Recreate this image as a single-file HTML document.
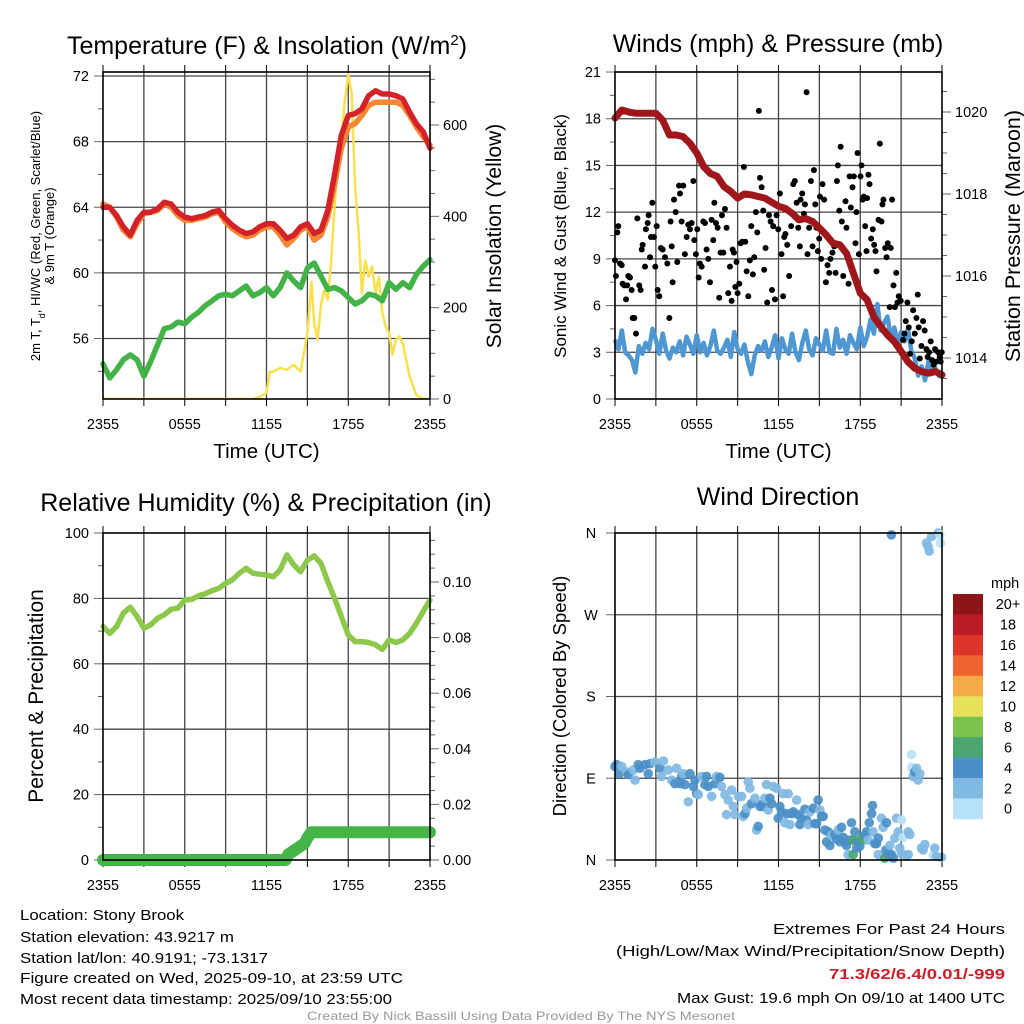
<!DOCTYPE html>
<html><head><meta charset="utf-8"><style>
html,body{margin:0;padding:0;background:#fff;}
svg{display:block;font-family:"Liberation Sans",sans-serif;}
</style></head><body>
<svg id="fig" width="1024" height="1024" viewBox="0 0 1024 1024" xmlns="http://www.w3.org/2000/svg">
<rect width="1024" height="1024" fill="#fff"/>
<g id="p1"></g>
<g id="p2"></g>
<g id="p3"></g>
<g id="p4"></g>

<g font-size="15">
<text x="20" y="920" textLength="164" lengthAdjust="spacingAndGlyphs">Location: Stony Brook</text>
<text x="20" y="942" textLength="214" lengthAdjust="spacingAndGlyphs">Station elevation: 43.9217 m</text>
<text x="20" y="963" textLength="248" lengthAdjust="spacingAndGlyphs">Station lat/lon: 40.9191; -73.1317</text>
<text x="20" y="983" textLength="383" lengthAdjust="spacingAndGlyphs">Figure created on Wed, 2025-09-10, at 23:59 UTC</text>
<text x="20" y="1004" textLength="372" lengthAdjust="spacingAndGlyphs">Most recent data timestamp: 2025/09/10 23:55:00</text>
<text x="1005" y="934" text-anchor="end" textLength="232" lengthAdjust="spacingAndGlyphs">Extremes For Past 24 Hours</text>
<text x="1005" y="956" text-anchor="end" textLength="389" lengthAdjust="spacingAndGlyphs">(High/Low/Max Wind/Precipitation/Snow Depth)</text>
<text x="1005" y="979" text-anchor="end" fill="#c8202a" font-weight="bold" textLength="176" lengthAdjust="spacingAndGlyphs">71.3/62/6.4/0.01/-999</text>
<text x="1005" y="1003" text-anchor="end" textLength="328" lengthAdjust="spacingAndGlyphs">Max Gust: 19.6 mph On 09/10 at 1400 UTC</text>
<text x="521" y="1020" text-anchor="middle" font-size="12" fill="#999" textLength="428" lengthAdjust="spacingAndGlyphs">Created By Nick Bassill Using Data Provided By The NYS Mesonet</text>
</g>
</svg>
<script>
// ---------- DATA ----------
const timeTickLabels = ["2355","0555","1155","1755","2355"];
// Temperature panel (values every 0.5 h, 0..24)
const tempRed = [64.0,64.0,63.5,62.8,62.3,63.2,63.7,63.7,63.9,64.3,64.2,63.7,63.4,63.3,63.4,63.5,63.7,63.8,63.3,62.9,62.6,62.4,62.5,62.8,63.0,63.0,62.6,62.1,62.3,62.8,63.0,62.4,62.6,63.8,66.0,68.4,69.6,69.7,70.0,70.8,71.1,70.9,70.9,70.8,70.6,69.8,69.1,68.6,67.6];
const tempOrange = [64.2,64.0,63.4,62.6,62.2,63.0,63.6,63.7,63.8,64.2,64.0,63.5,63.2,63.2,63.3,63.4,63.6,63.7,63.1,62.7,62.4,62.2,62.3,62.6,62.8,62.8,62.3,61.7,62.1,62.6,62.8,62.0,62.3,63.4,65.4,67.6,68.9,69.1,69.6,70.2,70.4,70.4,70.4,70.4,70.2,69.6,68.9,68.3,67.8];
const dewGreen = [54.45,53.6,54.1,54.7,55.0,54.7,53.7,54.6,55.6,56.6,56.7,57.0,56.9,57.3,57.6,58.0,58.3,58.6,58.7,58.6,58.9,59.2,58.6,58.8,59.1,58.6,59.1,60.0,59.5,59.1,60.3,60.6,59.8,59.0,59.1,58.9,58.5,58.1,58.3,58.7,58.6,58.3,59.4,59.0,59.4,59.1,59.9,60.4,60.8];
const insolHours = [0,11,11.5,12,12.25,12.5,13,13.5,14,14.5,15,15.3,15.5,15.75,16,16.25,16.5,16.75,17,17.25,17.5,17.75,18,18.25,18.5,18.75,19,19.25,19.5,19.75,20,20.25,20.5,20.75,21,21.25,21.5,21.75,22,22.5,23,23.5,24];
const insolVals = [0,0,5,13,60,60,68,64,75,60,144,257,166,130,207,239,217,304,420,522,573,653,711,668,464,369,231,304,268,290,231,268,188,159,144,97,130,137,122,49,9,0,0];
const tempTicks = [56,60,64,68,72];
const insolTicks = [0,200,400,600];
// Wind panel
const windBlue = [3.8,3.2,4.4,3.0,2.8,2.5,1.7,3.4,2.9,3.6,3.2,4.5,3.8,2.9,4.2,3.1,2.6,3.3,3.0,3.7,2.8,4.0,3.5,2.9,4.1,3.0,3.6,2.8,3.4,4.4,3.1,2.9,3.3,3.8,2.7,4.3,3.2,2.9,3.5,2.4,1.6,2.8,3.4,3.1,3.7,2.7,3.3,4.1,2.6,3.9,3.2,2.9,4.2,3.0,2.5,3.6,4.4,3.2,2.8,3.9,3.5,3.1,4.4,3.0,2.9,4.5,3.3,3.8,2.9,4.1,3.6,3.2,4.6,3.4,4.0,5.1,4.2,6.1,4.4,4.9,5.3,3.9,4.6,3.6,4.3,3.7,4.5,3.1,2.6,1.5,2.1,1.2,2.4,1.6,2.0,1.5,1.4];
const pressure = [1019.85,1020.05,1020.0,1019.97,1019.97,1019.97,1019.97,1019.8,1019.44,1019.44,1019.4,1019.24,1019.0,1018.67,1018.5,1018.43,1018.18,1018.06,1017.9,1018.0,1017.98,1017.94,1017.9,1017.8,1017.7,1017.65,1017.53,1017.37,1017.4,1017.33,1017.17,1017.0,1016.8,1016.76,1016.55,1016.07,1015.58,1015.42,1015.0,1014.77,1014.56,1014.4,1014.16,1013.91,1013.75,1013.67,1013.63,1013.67,1013.59];
const gustHours = [0,0.07,0.17,0.24,0.37,0.49,0.56,0.68,0.81,0.9,0.98,1.1,1.22,1.3,1.42,1.54,1.64,1.78,1.88,1.96,2.03,2.2,2.27,2.4,2.47,2.57,2.64,2.74,2.86,2.96,3.06,3.13,3.25,3.37,3.5,3.67,3.84,3.99,4.08,4.16,4.23,4.33,4.45,4.57,4.7,4.77,4.89,5.01,5.13,5.26,5.38,5.5,5.62,5.75,5.82,5.94,6.04,6.14,6.23,6.36,6.48,6.6,6.72,6.85,6.97,7.09,7.21,7.29,7.41,7.53,7.65,7.75,7.85,7.95,8.07,8.19,8.31,8.44,8.56,8.63,8.73,8.83,8.92,9.0,9.12,9.22,9.34,9.46,9.56,9.66,9.78,9.9,10.0,10.12,10.22,10.34,10.44,10.56,10.64,10.76,10.88,10.95,11.05,11.17,11.3,11.42,11.52,11.61,11.74,11.86,11.98,12.1,12.22,12.34,12.42,12.51,12.64,12.78,12.93,13.08,13.2,13.33,13.45,13.57,13.62,13.74,13.86,13.94,14.06,14.13,14.25,14.38,14.5,14.6,14.7,14.79,14.89,14.99,15.04,15.13,15.23,15.35,15.48,15.6,15.72,15.81,15.96,16.09,16.19,16.29,16.36,16.46,16.56,16.65,16.75,16.92,16.99,17.14,17.22,17.31,17.43,17.53,17.65,17.72,17.8,17.9,18.02,18.09,18.17,18.26,18.36,18.46,18.5,18.6,18.68,18.8,18.92,19.02,19.12,19.19,19.34,19.44,19.56,19.63,19.7,19.83,19.93,20.02,20.17,20.24,20.34,20.44,20.54,20.64,20.73,20.83,20.97,21.14,21.24,21.34,21.46,21.56,21.66,21.78,21.88,22.0,22.12,22.22,22.29,22.37,22.49,22.61,22.73,22.86,22.95,23.05,23.17,23.27,23.39,23.49,23.59,23.71,23.83,23.9,23.98];
const gustSpeeds = [8.9,7.9,10.7,11.1,8.7,8.6,7.4,7.3,6.4,7.3,7.9,7.8,7.0,5.2,5.2,4.2,11.6,7.3,7.0,9.6,9.9,8.5,10.9,11.3,11.8,9.1,10.4,12.6,10.4,8.5,11.1,7.0,6.6,9.7,9.6,9.1,8.7,5.2,11.4,9.8,7.5,12.8,12.0,8.8,13.7,13.2,11.4,13.7,9.3,10.4,11.2,10.9,11.3,14.0,10.2,9.3,10.9,7.8,8.7,8.5,11.4,11.3,9.6,9.0,7.5,11.5,10.2,12.6,11.3,11.0,6.5,9.4,11.8,9.4,12.2,11.0,6.8,8.5,6.3,9.6,9.4,7.2,8.8,6.8,7.4,10.0,10.1,14.9,10.1,8.2,6.6,8.9,11.1,8.0,9.1,12.0,10.7,18.5,14.2,13.6,12.1,8.3,9.7,6.2,11.8,11.4,7.0,11.1,6.4,11.8,10.9,13.2,9.3,6.6,10.4,10.6,9.9,7.9,11.1,13.8,14.0,12.6,11.0,9.8,12.8,13.2,11.9,12.5,19.7,9.3,11.0,14.0,9.8,14.7,12.5,11.0,9.5,10.3,13.0,9.0,13.8,12.8,7.5,8.6,8.1,9.0,9.4,9.8,8.1,14.0,15.0,12.1,16.2,11.4,7.9,12.7,11.0,7.4,14.3,12.3,13.6,14.3,10.0,12.0,15.8,9.3,14.3,15.0,12.8,13.0,11.1,9.5,12.9,14.4,13.8,10.3,10.9,9.9,9.5,8.2,11.5,16.4,11.4,12.5,12.8,9.7,9.1,10.0,5.9,9.7,12.8,7.3,5.9,8.1,6.2,6.6,6.3,3.8,4.2,5.0,6.2,4.6,2.9,3.7,5.7,4.2,5.2,6.7,4.6,2.6,3.4,5.0,4.4,3.2,2.7,3.0,3.7,2.5,2.2,3.2,2.4,3.0,2.7,2.4,3.0];
const windTicks = [0,3,6,9,12,15,18,21];
const pressTicks = [1014,1016,1018,1020];
// Humidity panel
const rhVals = [71.4,69.3,71.4,75.5,77.3,74.4,70.9,71.9,73.9,75.0,76.7,77.0,79.5,79.7,80.8,81.4,82.4,83.1,84.6,85.7,87.7,89.2,87.7,87.4,87.2,86.6,88.7,93.3,90.2,88.2,91.7,93.0,90.7,85.1,80.0,74.4,68.8,66.8,66.8,66.5,65.8,64.4,67.3,66.5,67.3,69.3,72.4,76.0,79.5];
const precipHours = [0,13.4,13.6,14.2,14.8,15.0,15.3,24];
const precipVals = [0,0,0.002,0.004,0.006,0.008,0.01,0.01];
const rhTicks = [0,20,40,60,80,100];
const precipTicks = ["0.00","0.02","0.04","0.06","0.08","0.10"];
// Wind direction panel
const dirHours = [0,0.12,0.32,0.49,0.86,0.98,1.34,1.47,1.71,1.83,2.2,2.44,2.57,2.93,3.3,3.42,3.55,3.91,4.16,4.4,4.52,4.77,4.89,5.01,5.13,5.38,5.5,5.75,5.87,5.99,6.11,6.36,6.6,6.72,6.85,7.09,7.33,7.46,7.7,7.82,8.07,8.19,8.31,8.56,8.68,8.8,9.05,9.29,9.41,9.54,9.66,9.78,9.9,10.02,10.27,10.39,10.51,10.64,10.76,10.88,11.0,11.12,11.25,11.37,11.49,11.61,11.86,11.98,12.1,12.22,12.35,12.47,12.59,12.71,12.84,12.96,13.08,13.33,13.45,13.57,13.69,13.94,14.06,14.18,14.3,14.55,14.67,14.79,14.91,15.04,15.16,15.28,15.4,15.53,15.65,15.77,15.89,16.14,16.26,16.38,16.5,16.63,16.75,16.87,16.99,17.11,17.24,17.36,17.48,17.48,17.6,17.73,17.85,17.97,18.09,18.22,18.34,18.46,18.58,18.66,18.83,18.9,18.95,19.07,19.19,19.32,19.32,19.56,19.68,19.8,19.88,19.93,20.05,20.17,20.29,20.29,20.42,20.54,20.66,20.78,20.9,21.03,21.03,21.15,21.39,21.52,21.52,21.64,21.76,21.76,21.88,22.0,22.13,22.25,22.37,22.49,22.62,22.74,22.86,22.98,23.06,23.23,23.35,23.47,23.59,23.72,23.84,23.89,23.96];
const dirDegs = [103,105,95,103,97,94,99,88,105,101,105,95,106,108,101,92,109,99,88,84,101,84,92,95,83,64,95,81,88,73,72,92,83,92,81,70,84,92,91,81,72,50,66,77,59,50,70,70,48,51,57,86,79,62,68,33,37,59,61,59,68,83,55,68,62,81,79,46,59,53,73,41,51,73,39,51,53,66,50,39,46,56,44,39,53,57,40,40,66,55,48,48,33,20,31,16,27,28,23,33,20,36,25,20,16,6,22,41,22,6,31,13,20,15,24,22,27,31,22,41,51,60,31,18,18,24,6,46,36,2,11,41,7,16,6,358,2,24,46,31,13,44,7,25,5,6,31,28,116,102,92,97,101,88,95,13,11,17,349,345,340,356,5,13,4,360,358,349,3];
const dirSpeeds = [4,4,4,2,2,4,2,2,4,4,4,4,4,2,4,2,2,2,2,4,2,4,4,2,4,2,4,4,4,4,2,2,4,4,4,2,4,2,4,2,2,2,2,2,2,2,2,2,2,4,2,2,2,4,2,2,4,4,4,4,2,2,2,4,4,2,2,4,4,4,2,2,4,2,2,4,4,2,4,4,4,4,4,2,2,4,4,4,4,2,4,4,4,4,4,4,2,4,4,2,4,4,4,4,4,2,4,4,6,6,4,4,4,4,6,6,4,4,2,4,4,4,2,4,4,4,2,2,2,6,4,4,4,2,4,4,4,2,2,2,2,0.5,2,0.5,2,2,2,2,0.5,0.5,2,4,2,2,2,2,2,2,2,2,2,2,0.5,2,2,2,0.5,0.5];
const speedBinLabels = ["0","2","4","6","8","10","12","14","16","18","20+"];
const speedBinColors = ["#b8e2f7","#80b9e2","#4a8fc7","#4aa66e","#7dc24c","#e7e05b","#f6aa47","#ef6330","#dc3428","#ba1c25","#8d1419"];

// ---------- HELPERS ----------
const NS = "http://www.w3.org/2000/svg";
function mk(parent, tag, attrs, text){
  const e = document.createElementNS(NS, tag);
  for (const k in attrs) e.setAttribute(k, attrs[k]);
  if (text !== undefined) e.textContent = text;
  parent.appendChild(e);
  return e;
}
function linScale(d0,d1,r0,r1){ return v => r0 + (v-d0)*(r1-r0)/(d1-d0); }
function pathD(xs, ys){ return xs.map((x,i)=>(i?'L':'M')+x.toFixed(1)+' '+ys[i].toFixed(1)).join(''); }
function seqHours(n){ const a=[]; for(let i=0;i<n;i++) a.push(i*24/(n-1)); return a; }

function frame(g, L, R, T, B, titleText, titleX, titleY, showTimeTitle){
  const X = linScale(0,24,L,R);
  for (let h=3; h<24; h+=3){
    const ln = mk(g,'line',{x1:X(h),x2:X(h),y1:T,y2:B,stroke:'#444','stroke-width':1.3});
    
    
  }
  for (let h=0; h<=24; h+=3){
    const t1 = mk(g,'line',{x1:X(h),x2:X(h),y1:B,y2:B+7,stroke:'#000','stroke-width':1});
    
    
    const t2 = mk(g,'line',{x1:X(h),x2:X(h),y1:T-7,y2:T,stroke:'#000','stroke-width':1});
    
    
  }
  timeTickLabels.forEach((s,i)=>{
    const t = mk(g,'text',{x:X(i*6),y:B+30,'font-size':14.5,'text-anchor':'middle'},s);
    
    
  });
  if (showTimeTitle){
    const tt = mk(g,'text',{x:(L+R)/2,y:B+59,'font-size':20.5,'text-anchor':'middle'},'Time (UTC)');
    
    
  }
  const ti = mk(g,'text',{x:titleX,y:titleY,'font-size':25,'text-anchor':'middle'});
  
  
  ti.innerHTML = titleText;
  return X;
}
function hgrid(g,L,R,y){
  const ln = mk(g,'line',{x1:L,x2:R,y1:y,y2:y,stroke:'#444','stroke-width':1.3});
  
  
}
function box(g,L,R,T,B){
  const r = mk(g,'rect',{x:L,y:T,width:R-L,height:B-T,fill:'none',stroke:'#000','stroke-width':1.6});
  
  
}
function yTickLeft(g,L,y,label,minor){
  const t = mk(g,'line',{x1:L-(minor?5:9),x2:L,y1:y,y2:y,stroke:'#666','stroke-width':1});
  
  
  if(label!==null){
    const s = mk(g,'text',{x:L-14,y:y+5,'font-size':14.5,'text-anchor':'end'},label);
    
    
  }
}
function yTickRight(g,R,y,label,minor){
  const t = mk(g,'line',{x1:R,x2:R+(minor?5:9),y1:y,y2:y,stroke:'#666','stroke-width':1});
  
  
  if(label!==null){
    const s = mk(g,'text',{x:R+13,y:y+5,'font-size':14.5,'text-anchor':'start'},label);
    
    
  }
}
function vlabel(g,x,y,txt,size,name){
  const t = mk(g,'text',{x:x,y:y,'font-size':size,'text-anchor':'middle',transform:`rotate(-90 ${x} ${y})`});
  t.innerHTML = txt;
  
  
  return t;
}

// ---------- PANEL 1 ----------
(function(){
  const g = document.getElementById('p1');
  const L=103,R=430,T=72,B=399;
  const X = frame(g,L,R,T,B,'Temperature (F) &amp; Insolation (W/m<tspan dy="-9" font-size="15">2</tspan><tspan dy="9">)</tspan>',267,54,true);
  const Y = linScale(72,56,76,338.5);
  const Y2 = linScale(0,600,399,125);
  tempTicks.forEach(v=>{ hgrid(g,L,R,Y(v)); yTickLeft(g,L,Y(v),String(v),false); });
  for (let v=54; v<72; v+=4) yTickLeft(g,L,Y(v),null,true);
  insolTicks.forEach(v=>yTickRight(g,R,Y2(v),String(v),false));
  for (let v=50; v<720; v+=50) if(v%200) yTickRight(g,R,Y2(v),null,true);
  vlabel(g,40,236,'2m T, T<tspan baseline-shift="sub" font-size="9">d</tspan>, HI/WC (Red, Green, Scarlet/Blue)',13,'left-axis-title');
  vlabel(g,54,236,'&amp; 9m T (Orange)',13,'left-axis-title-line2');
  vlabel(g,501,236,'Solar Insolation (Yellow)',21,'right-axis-title');
  const cp = mk(g,'clipPath',{id:'c1'}); mk(cp,'rect',{x:L,y:T,width:R-L,height:B-T});
  const hrs = seqHours(tempRed.length);
  const ins = mk(g,'path',{d:pathD(insolHours.map(X),insolVals.map(Y2)),fill:'none',stroke:'#f9e04c','stroke-width':2.5,'stroke-linejoin':'round','clip-path':'url(#c1)'});
  
  
  const dg = mk(g,'path',{d:pathD(hrs.map(X),dewGreen.map(Y)),fill:'none',stroke:'#43b348','stroke-width':5.5,'stroke-linejoin':'round','stroke-linecap':'round'});
  
  
  const to = mk(g,'path',{d:pathD(hrs.map(X),tempOrange.map(Y)),fill:'none',stroke:'#f58634','stroke-width':5.5,'stroke-linejoin':'round','stroke-linecap':'round'});
  
  
  const tr = mk(g,'path',{d:pathD(hrs.map(X),tempRed.map(Y)),fill:'none',stroke:'#d42328','stroke-width':5.5,'stroke-linejoin':'round','stroke-linecap':'round'});
  
  
  box(g,L,R,T,B);
})();

// ---------- PANEL 2 ----------
(function(){
  const g = document.getElementById('p2');
  const L=615,R=942,T=72,B=399;
  const X = frame(g,L,R,T,B,'Winds (mph) &amp; Pressure (mb)',778,52,true);
  const Y = linScale(0,21,399,72);
  const Y2 = linScale(1014,1020,358,112);
  windTicks.forEach(v=>{ hgrid(g,L,R,Y(v)); yTickLeft(g,L,Y(v),String(v),false); });
  for (let v=1.5; v<21; v+=3) yTickLeft(g,L,Y(v),null,true);
  pressTicks.forEach(v=>yTickRight(g,R,Y2(v),String(v),false));
  for (let v=1013.5; v<1021; v+=0.5) if(v%2) yTickRight(g,R,Y2(v),null,true);
  vlabel(g,566,236,'Sonic Wind &amp; Gust (Blue, Black)',17,'left-axis-title');
  vlabel(g,1020,236,'Station Pressure (Maroon)',21.5,'right-axis-title');
  const wh = seqHours(windBlue.length);
  const wb = mk(g,'path',{d:pathD(wh.map(X),windBlue.map(Y)),fill:'none',stroke:'#4f97d3','stroke-width':4.5,'stroke-linejoin':'round'});
  
  
  gustHours.forEach((h,i)=>{
    const c = mk(g,'circle',{cx:X(h),cy:Y(gustSpeeds[i]),r:3,fill:'#000'});
    
    
  });
  const ph = seqHours(pressure.length);
  const pl = mk(g,'path',{d:pathD(ph.map(X),pressure.map(Y2)),fill:'none',stroke:'#a0171b','stroke-width':7,'stroke-linejoin':'round','stroke-linecap':'round'});
  
  
  box(g,L,R,T,B);
})();

// ---------- PANEL 3 ----------
(function(){
  const g = document.getElementById('p3');
  const L=103,R=430,T=533,B=860;
  const X = frame(g,L,R,T,B,'Relative Humidity (%) &amp; Precipitation (in)',266,511,false);
  const Y = linScale(0,100,860,533);
  const Y2 = linScale(0,0.1,860,582);
  rhTicks.forEach(v=>{ if(v>0&&v<100) hgrid(g,L,R,Y(v)); yTickLeft(g,L,Y(v),String(v),false); });
  for (let v=10; v<100; v+=20) yTickLeft(g,L,Y(v),null,true);
  precipTicks.forEach((s,i)=>yTickRight(g,R,Y2(i*0.02),s,false));
  for (let v=0.005; v<0.117; v+=0.005) if(Math.round(v*1000)%20) yTickRight(g,R,Y2(v),null,true);
  vlabel(g,43,696,'Percent &amp; Precipitation',21,'left-axis-title');
  const pr = mk(g,'path',{d:pathD(precipHours.map(X),precipVals.map(Y2)),fill:'none',stroke:'#45b549','stroke-width':12,'stroke-linejoin':'round','stroke-linecap':'round'});
  
  
  const rh = seqHours(rhVals.length);
  const rl = mk(g,'path',{d:pathD(rh.map(X),rhVals.map(Y)),fill:'none',stroke:'#8dc84d','stroke-width':5.5,'stroke-linejoin':'round','stroke-linecap':'round'});
  
  
  box(g,L,R,T,B);
})();

// ---------- PANEL 4 ----------
(function(){
  const g = document.getElementById('p4');
  const L=615,R=942,T=533,B=860;
  const X = frame(g,L,R,T,B,'Wind Direction',778,505,false);
  const Y = linScale(0,360,860,533);
  const dl = ['N','E','S','W','N'];
  dl.forEach((s,i)=>{
    const y = Y(i*90);
    if(i>0&&i<4) hgrid(g,L,R,y);
    const t = mk(g,'line',{x1:L-9,x2:L,y1:y,y2:y,stroke:'#666','stroke-width':1});
    
    
    const s2 = mk(g,'text',{x:591,y:y+5,'font-size':14.5,'text-anchor':'middle'},s);
    
    
  });
  vlabel(g,566,696,'Direction (Colored By Speed)',18.5,'left-axis-title');
  function binIdx(s){ if(s===undefined||isNaN(s)) return 1; let k=Math.round(s/2); if(k<0)k=0; if(k>10)k=10; return k; }
  const n = Math.min(dirHours.length, dirDegs.length);
  for (let i=0;i<n;i++){
    const c = mk(g,'circle',{cx:X(dirHours[i]),cy:Y(dirDegs[i]),r:4.8,fill:speedBinColors[binIdx(dirSpeeds[i])],'fill-opacity':0.92});
    
    
  }
  box(g,L,R,T,B);
  const cb = mk(g,'g',{});
  
  
  const top=594, bh=20.45;
  speedBinLabels.forEach((s,i)=>{
    const k = 10-i;
    const r = mk(cb,'rect',{x:953,y:top+i*bh,width:30,height:bh+0.3,fill:speedBinColors[k]});
    
    
    const t = mk(cb,'text',{x:1008,y:top+i*bh+bh/2+5,'font-size':14.5,'text-anchor':'middle'},speedBinLabels[k]);
    
    
  });
  const u = mk(cb,'text',{x:991,y:588,'font-size':14.5},'mph');
  
  
})();
</script>
</body></html>
